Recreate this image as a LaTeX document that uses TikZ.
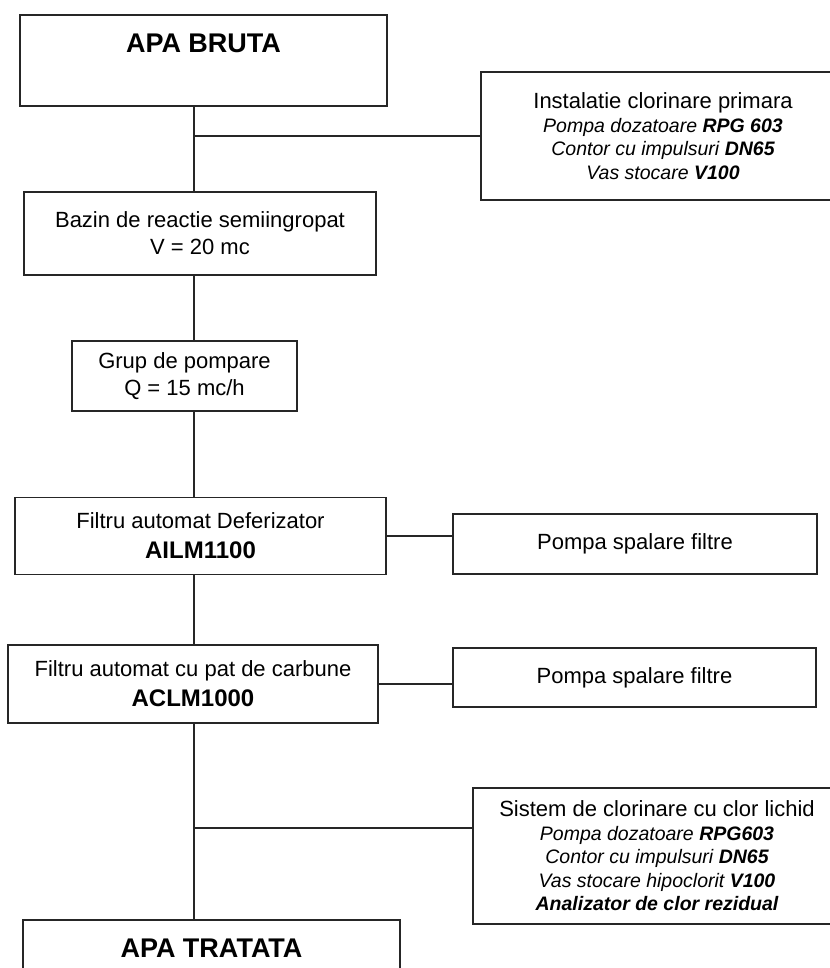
\documentclass[tikz,border=0pt]{standalone}
\usepackage{fontspec}
\setmainfont{Liberation Sans}
\begin{document}
\begin{tikzpicture}[x=1pt,y=-1pt]
  \tikzstyle{every node}+=[inner sep=0pt]
  \tikzstyle{bloc}=[draw=black!85, line width=1.7pt, rectangle, align=center, font=\fontsize{22}{27}\selectfont]
  \tikzstyle{det}=[bloc, font=\fontsize{19.5}{23.5}\selectfont\itshape]
  \tikzstyle{titlu}=[font=\fontsize{27}{32}\selectfont\bfseries]
  \tikzstyle{linie}=[draw=black!85, line width=1.7pt]
  \useasboundingbox (0,0) rectangle (829,968);
  \coordinate (ax) at (194,0);
  \coordinate (rc) at (0,828);
  \node [bloc, minimum width=367, minimum height=91] (bruta) at (203.5,60.5) {};
  \node [titlu] (brutaT) at (203.5,43) {APA BRUTA};
  \node [det, minimum width=364, minimum height=128] (inst) at (663,136)
    {{\upshape\fontsize{22}{23.5}\selectfont Instalatie clorinare primara}\\
     Pompa dozatoare \textbf{RPG 603}\\
     Contor cu impulsuri \textbf{DN65}\\
     Vas stocare \textbf{V100}};
  \node [bloc, minimum width=352, minimum height=83] (bazin) at (200,233.5)
    {Bazin de reactie semiingropat\\ V = 20 mc};
  \node [bloc, minimum width=225, minimum height=70] (grup) at (184.5,376)
    {Grup de pompare\\ Q = 15 mc/h};
  \node [bloc, minimum width=371, minimum height=77] (defer) at (200.5,536)
    {Filtru automat Deferizator\\[3pt] {\fontsize{24}{27}\selectfont\bfseries AILM1100}};
  \node [bloc, minimum width=364, minimum height=60] (pompaA) at (635,544)
    {Pompa spalare filtre};
  \node [bloc, minimum width=370, minimum height=78] (carb) at (193,684)
    {Filtru automat cu pat de carbune\\[3pt] {\fontsize{24}{27}\selectfont\bfseries ACLM1000}};
  \node [bloc, minimum width=363, minimum height=59] (pompaB) at (634.5,677.5)
    {Pompa spalare filtre};
  \node [det, minimum width=368, minimum height=136] (sistem) at (657,856)
    {{\upshape\fontsize{22}{23.5}\selectfont Sistem de clorinare cu clor lichid}\\
     Pompa dozatoare \textbf{RPG603}\\
     Contor cu impulsuri \textbf{DN65}\\
     Vas stocare hipoclorit \textbf{V100}\\
     \textbf{Analizator de clor rezidual}};
  \node [bloc, titlu, minimum width=377, minimum height=56] (tratata) at (211.5,948) {APA TRATATA};
  \draw [linie] (bruta.south -| ax) -- (bazin.north -| ax);
  \draw [linie] (bazin.south -| ax) -- (grup.north -| ax);
  \draw [linie] (grup.south -| ax) -- (defer.north -| ax);
  \draw [linie] (defer.south -| ax) -- (carb.north -| ax);
  \draw [linie] (carb.south -| ax) -- (tratata.north -| ax);
  \draw [linie] (ax |- inst.west) -- (inst.west);
  \draw [linie] (defer.east) -- (defer.east -| pompaA.west);
  \draw [linie] (carb.east) -- (carb.east -| pompaB.west);
  \draw [linie] (ax |- rc) -- (sistem.west |- rc);
\end{tikzpicture}
\end{document}
